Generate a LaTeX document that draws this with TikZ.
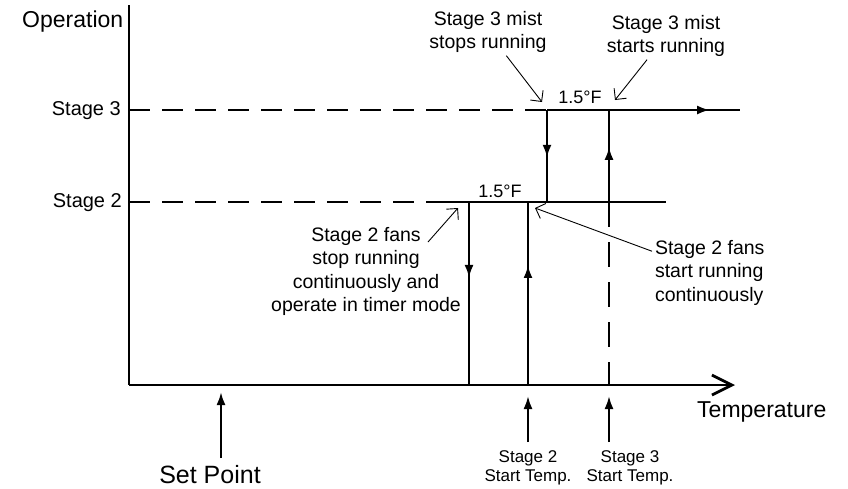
\documentclass[tikz,border=0pt]{standalone}
\usepackage{fontspec}
\setmainfont{Liberation Sans}
\usetikzlibrary{arrows.meta, decorations.markings, positioning}

\begin{document}
\begin{tikzpicture}[x=1pt, y=-1pt,
  axis/.style={line width=2.8pt},
  level/.style={line width=2.8pt, dash pattern=on 21pt off 12pt},
  flow/.style={line width=2.8pt},
  idle/.style={line width=2.8pt, dash pattern=on 25pt off 15pt},
  midarrow/.style={postaction={decorate, decoration={markings,
    mark=at position #1 with {\arrow{Latex[length=13pt,width=9pt]}}}}},
  note/.style={align=center, inner sep=0pt, outer sep=3pt, font=\fontsize{19.5}{23.5}\selectfont},
  pointer/.style={line width=0.9pt, -{Straight Barb[length=8pt,width=16pt]}},
  tag/.style={inner sep=0pt, font=\fontsize{20}{24}\selectfont},
  big/.style={inner sep=0pt, font=\fontsize{23}{27}\selectfont},
  small/.style={align=center, inner sep=0pt, font=\fontsize{17}{19.5}\selectfont},
  riser/.style={line width=2.2pt, -{Latex[length=13pt,width=9pt]}}
]
\useasboundingbox (0,0) rectangle (848,488);

\coordinate (O) at (129,385);
\coordinate (Ytop) at (129,5);
\coordinate (Xend) at (735,385);

\coordinate (S3a) at (129,110);
\coordinate (S3b) at (547,110);
\coordinate (S3c) at (740,110);
\coordinate (S2a) at (129,202);
\coordinate (S2b) at (441,202);
\coordinate (S2c) at (666,202);

\coordinate (offTwoTop) at (469,202);
\coordinate (offTwoBot) at (469,385);
\coordinate (onTwoBot) at (528,385);
\coordinate (onTwoTop) at (528,202);
\coordinate (offThreeTop) at (547,110);
\coordinate (offThreeBot) at (547,202);
\coordinate (onThreeBot) at (609,202);
\coordinate (onThreeTop) at (609,110);
\coordinate (onThreeFoot) at (609,385);

\node (Operation) [big, anchor=base west] at (22,27) {Operation};
\node (Temperature) [big, anchor=base west] at (697,417) {Temperature};
\node (SetPoint) [big, font=\fontsize{25}{29}\selectfont, anchor=base] at (210,483) {Set Point};
\node (StageThree) [tag, anchor=base east] at (121,115) {Stage 3};
\node (StageTwo) [tag, anchor=base east] at (122,207) {Stage 2};

\node (BandThree) [tag, font=\fontsize{18}{22}\selectfont, anchor=base] at (580,103) {1.5°F};
\node (BandTwo) [tag, font=\fontsize{18}{22}\selectfont, anchor=base] at (500,197) {1.5°F};

\node (MistStop) [note, anchor=north] at (488,8) {Stage 3 mist\\stops running};
\node (MistStart) [note, anchor=north] at (666,12) {Stage 3 mist\\starts running};
\node (FanStop) [note, anchor=north] at (366,224) {Stage 2 fans\\stop running\\continuously and\\operate in timer mode};
\node (FanStart) [note, anchor=north west, align=left] at (652,237) {Stage 2 fans\\start running\\continuously};

\coordinate (spFoot) at (221,458);
\coordinate (spTip) at (221,392);
\coordinate (twoFoot) at (528,442);
\coordinate (twoTip) at (528,396);
\coordinate (threeFoot) at (609,442);
\coordinate (threeTip) at (609,396);

\node (TwoTemp) [small, below=8pt of twoFoot] {Stage 2\\Start Temp.};
\node (ThreeTemp) [small, below=8pt of threeFoot, xshift=21pt] {Stage 3\\Start Temp.};

\coordinate (offThreeMark) at (542,102);
\coordinate (onThreeMark) at (615,100);
\coordinate (offTwoMark) at (458,208);
\coordinate (onTwoMark) at (535,208);
\coordinate (fanStopFrom) at (428,242);

\draw[axis] (Ytop) -- (O);
\draw[axis, -{Straight Barb[length=20pt,width=20pt]}] (O) -- (Xend);

\draw[level] (S3a) -- (S3b);
\draw[flow, midarrow=0.845] (S3b) -- (S3c);
\draw[level] (S2a) -- (S2b);
\draw[flow] (S2b) -- (S2c);

\draw[flow, midarrow=0.415] (offTwoTop) -- (offTwoBot);
\draw[flow, midarrow=0.656] (onTwoBot) -- (onTwoTop);
\draw[flow, midarrow=0.52] (offThreeTop) -- (offThreeBot);
\draw[flow, midarrow=0.6] (onThreeBot) -- (onThreeTop);
\draw[idle] (onThreeBot) -- (onThreeFoot);

\draw[riser] (spFoot) -- (spTip);
\draw[riser] (twoFoot) -- (twoTip);
\draw[riser] (threeFoot) -- (threeTip);

\draw[pointer] (MistStop) -- (offThreeMark);
\draw[pointer] (MistStart) -- (onThreeMark);
\draw[pointer] (fanStopFrom) -- (offTwoMark);
\draw[pointer] (FanStart) -- (onTwoMark);
\end{tikzpicture}
\end{document}
